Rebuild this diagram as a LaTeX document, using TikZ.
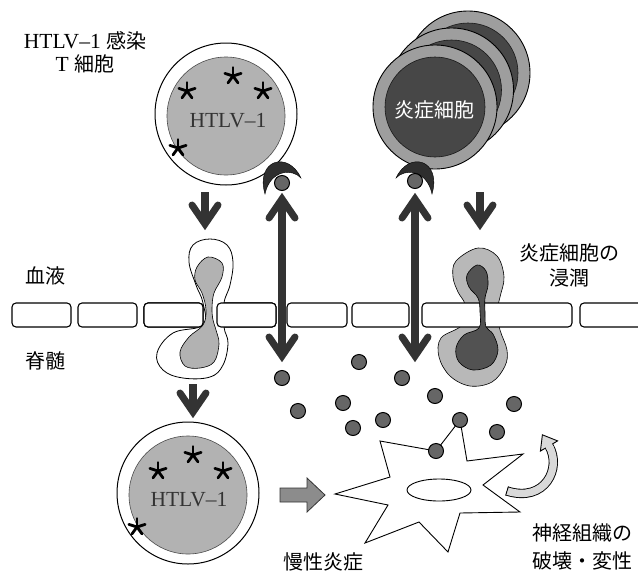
\documentclass[tikz,border=0pt]{standalone}
\usepackage{fontspec}
\setmainfont{Liberation Serif}
\newfontfamily\jpfont{Noto Sans CJK JP}
\usetikzlibrary{calc}
\begin{document}
\begin{tikzpicture}[x=1pt,y=-1pt,
  lbl/.style={inner sep=0pt, align=center, font=\fontsize{20}{25}\selectfont\jpfont},
  lat/.style={inner sep=0pt, align=center, font=\fontsize{21.5}{24}\selectfont},
  membrane/.style={draw=black, line width=1.1pt, rounded corners=4pt, fill=white},
  cyto/.style={circle, draw=black, line width=1pt, fill=black!60, minimum size=15pt, inner sep=0pt},
  cellwall/.style={circle, draw=black, line width=1pt, fill=white, inner sep=0pt, minimum size=142pt},
  cellcore/.style={circle, draw=black!70, line width=0.6pt, fill=black!30, inner sep=0pt, minimum size=118pt},
  ringcell/.style={circle, draw=black, line width=0.9pt, fill=black!38, inner sep=0pt, minimum size=124pt},
  ringcore/.style={circle, draw=black!90, line width=0.6pt, fill=black!72, inner sep=0pt, minimum size=100pt},
  shaft/.style={draw=black!80, line width=7.5pt},
  barb/.style={draw=black!80, line width=7pt, line cap=round, line join=miter, miter limit=10},
  chevhead/.pic={\draw[barb] (-13,-25) -- (0,-6) -- (13,-25);},
  virus/.pic={\foreach \a in {270,342,54,126,198} \draw[line width=2.8pt, line cap=round] (0,0) -- (\a:8.5);},
  receptor/.style={fill=black!82, draw=black, line width=0.4pt},
]
\useasboundingbox (0,0) rectangle (638,574);

% ---------- HTLV-1 infected T cell (blood side) ----------
\node[cellwall] (tcell) at (226,114) {};
\node[cellcore] (tcore) at (226,116) {};
\node[lat, text=black!80] (tname) at (228,121) {HTLV–1};
\pic at (233,76) {virus};
\pic at (187,91) {virus};
\pic at (263,91) {virus};
\pic at (178,148) {virus};

% ---------- stacked inflammatory cells ----------
\node[ringcell] (inflC) at (468,73) {};
\node[ringcore] (inflCc) at (468,73) {};
\node[ringcell] (inflB) at (451.5,90) {};
\node[ringcore] (inflBc) at (451.5,90) {};
\node[ringcell] (inflA) at (435,107) {};
\node[ringcore] (inflAc) at (435,107) {};
\node[lbl, text=white] (infltext) at (434,110) {炎症細胞};

% ---------- receptors with bound ligands ----------
\fill[receptor] (265,194) .. controls (255,160) and (288,150) .. (301,178)
  .. controls (292,168) and (270,170) .. (265,194) -- cycle;
\fill[receptor] (432,194) .. controls (442,160) and (409,150) .. (396,178)
  .. controls (405,168) and (427,170) .. (432,194) -- cycle;
\node[cyto] (ligL) at (282,183) {};
\node[cyto] (ligR) at (415,181) {};

% ---------- vessel wall ----------
\foreach \a/\b in {12/71, 78/137, 144/203, 217/276, 287/347, 352/409}
  \draw[membrane] (\a,303) rectangle (\b,327);

% left migrating T cell (squeezes through a gap)
\filldraw[fill=white, draw=black, line width=0.8pt] plot[smooth cycle, tension=0.65] coordinates {
  (210,239) (227,245) (233,262) (230,285) (224,303) (224,327) (228,343) (223,365)
  (210,377) (183,378) (163,370) (157,353) (173,333) (203,325) (203,303) (196,285)
  (189,262) (193,245)};
\draw[membrane] (144,303) rectangle (203,327);
\draw[membrane] (217,303) rectangle (276,327);
\filldraw[fill=black!30, draw=black, line width=0.6pt] plot[smooth cycle, tension=0.6] coordinates {
  (208,257) (222,263) (222,277) (214,293) (212,308) (213,320) (216,330) (219,344)
  (214,362) (200,368) (185,366) (180,352) (189,337) (203,325) (206,310) (202,293)
  (195,280) (197,267)};

% right migrating inflammatory cell (passes through the endothelium)
\filldraw[fill=black!28, draw=black, line width=0.6pt] plot[smooth cycle, tension=0.6] coordinates {
  (478,248) (497,256) (504,277) (500,297) (497,312) (500,330) (507,350) (505,366)
  (492,382) (470,386) (450,376) (439,357) (441,338) (462,325) (465,305) (458,292)
  (453,277) (456,261)};
\draw[membrane] (422,303) rectangle (572,327);
\draw[membrane] (580,303) rectangle (660,327);
\filldraw[fill=black!68, draw=black, line width=0.6pt] plot[smooth cycle, tension=0.6] coordinates {
  (477,265) (486,271) (488,285) (485,298) (485,312) (486,327) (493,334) (498,350)
  (491,365) (473,370) (459,362) (456,348) (464,335) (479,328) (480,312) (478,298)
  (469,287) (467,275)};

% ---------- arrows ----------
\coordinate (dLtop) at (205,192);
\coordinate (dLtip) at (205,230);
\draw[shaft] (dLtop) -- ($(dLtip)+(0,-8)$);
\pic at (dLtip) {chevhead};

\coordinate (dRtop) at (480,192);
\coordinate (dRtip) at (480,230);
\draw[shaft] (dRtop) -- ($(dRtip)+(0,-8)$);
\pic at (dRtip) {chevhead};

\coordinate (dBtop) at (193,384);
\coordinate (dBtip) at (193,418);
\draw[shaft] (dBtop) -- ($(dBtip)+(0,-8)$);
\pic at (dBtip) {chevhead};

\coordinate (aLup) at (282,193);
\coordinate (aLdn) at (282,362);
\draw[shaft] ($(aLup)+(0,6)$) -- ($(aLdn)+(0,-6)$);
\pic[rotate=180] at (aLup) {chevhead};
\pic at (aLdn) {chevhead};

\coordinate (aRup) at (415,193);
\coordinate (aRdn) at (415,362);
\draw[shaft] ($(aRup)+(0,6)$) -- ($(aRdn)+(0,-6)$);
\pic[rotate=180] at (aRup) {chevhead};
\pic at (aRdn) {chevhead};

% ---------- T cell in the spinal cord ----------
\node[cellwall] (tcell2) at (188,493) {};
\node[cellcore] (tcore2) at (188,495) {};
\node[lat, text=black!80] (tname2) at (189,500) {HTLV–1};
\pic at (193,455) {virus};
\pic at (158,471) {virus};
\pic at (223,471) {virus};
\pic at (137,527) {virus};

% gray block arrow towards the lesion
\filldraw[fill=black!45, draw=black!80, line width=0.8pt]
  (280,488) -- (307,488) -- (307,478) -- (325,495) -- (307,512) -- (307,502) -- (280,502) -- cycle;

% ---------- nerve cell ----------
\filldraw[fill=white, draw=black, line width=0.9pt]
  (335,494) -- (390,477) -- (380,441) -- (436,451) -- (460,420) -- (467,461) -- (523,454)
  -- (483,485) -- (520,512) -- (460,513) -- (448,552) -- (419,522) -- (365,543)
  -- (388,505) -- cycle;
\draw[fill=white, line width=0.9pt] (439,490) ellipse [x radius=32, y radius=11];

% ---------- cytokines ----------
\foreach \p/\n in {{(282,378)}/c1, {(359,362)}/c2, {(298,411)}/c3, {(343,403)}/c4,
    {(353,428)}/c5, {(402,378)}/c6, {(383,420)}/c7, {(435,396)}/c8, {(460,420)}/c9,
    {(436,451)}/c10, {(514,404)}/c11, {(497,432)}/c12}
  \node[cyto] (\n) at \p {};

% ---------- curved arrow: tissue damage ----------
\draw[line width=0.9pt, double=black!15, double distance=7.5pt]
  (507,491) .. controls (545,503) and (562,468) .. (549,446);
\draw[line width=0.9pt] (505.6,495.5) -- (508.4,486.5);
\filldraw[fill=black!15, draw=black, line width=0.9pt]
  (557.6,440.9) -- (542.4,434.8) -- (540.4,451.1) -- cycle;
\draw[black!15, line width=7.3pt] (550.5,448.6) -- (548,444.3);

% ---------- labels ----------
\node[lat] (lblT) at (85,52) {HTLV–1 {\jpfont\fontsize{20}{24}\selectfont 感染}\\[-1pt]T {\jpfont\fontsize{20}{24}\selectfont 細胞}};
\node[lbl] (lblBlood) at (45,276) {血液};
\node[lbl] (lblCord) at (45,361) {脊髄};
\node[lbl] (lblInfil) at (569,265) {炎症細胞の\\浸潤};
\node[lbl] (lblNerve1) at (582,533) {神経組織の};
\node[lbl] (lblNerve2) at (582,561) {破壊・変性};
\node[lbl] (lblChronic) at (323,562) {慢性炎症};
\end{tikzpicture}
\end{document}
